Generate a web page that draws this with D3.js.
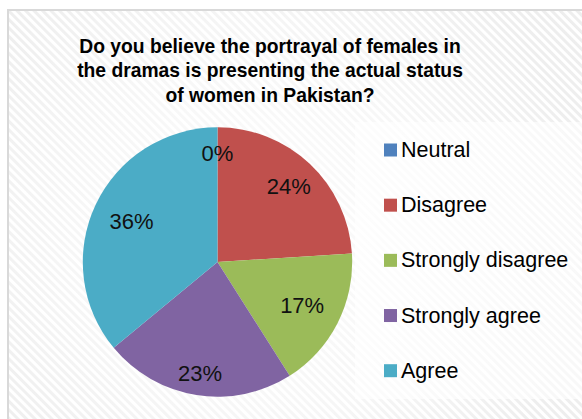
<!DOCTYPE html>
<html>
<head>
<meta charset="utf-8">
<script src="https://cdn.jsdelivr.net/npm/d3@7"></script>
<style>
  html, body { margin: 0; padding: 0; background: #fff; }
  svg { display: block; }
</style>
</head>
<body>
<svg id="chart" width="582" height="419"></svg>
<script>
// Survey responses (percent of respondents)
const categories = ["Neutral", "Disagree", "Strongly disagree", "Strongly agree", "Agree"];
const values = [0, 24, 17, 23, 36];
const colors = ["#4F81BD", "#C0504D", "#9BBB59", "#8064A2", "#4BACC6"];
const titleLines = [
  "Do you believe the portrayal of females in",
  "the dramas is presenting the actual status",
  "of women in Pakistan?"
];

// Layout
const W = 582, H = 419;
const cx = 217.5, cy = 262, R = 134.7;
// radial distance of each percentage label from the pie centre
const labelRadius = [109, 104, 95, 112, 95];

const svg = d3.select("#chart");
const defs = svg.append("defs");

// diagonal striped backdrop
const pat = defs.append("pattern")
  .attr("id", "stripes")
  .attr("patternUnits", "userSpaceOnUse")
  .attr("width", 6).attr("height", 6)
  .attr("patternTransform", "rotate(45)");
pat.append("rect").attr("width", 6).attr("height", 6).attr("fill", "#ffffff");
pat.append("rect").attr("width", 6).attr("height", 3).attr("fill", "#ececec");

const glow = defs.append("radialGradient")
  .attr("id", "glow")
  .attr("gradientUnits", "userSpaceOnUse")
  .attr("cx", 260).attr("cy", 230).attr("r", 330);
glow.append("stop").attr("offset", "0%").attr("stop-color", "#fff").attr("stop-opacity", 0.85);
glow.append("stop").attr("offset", "55%").attr("stop-color", "#fff").attr("stop-opacity", 0.55);
glow.append("stop").attr("offset", "100%").attr("stop-color", "#fff").attr("stop-opacity", 0.1);

svg.append("rect").attr("width", W).attr("height", H).attr("fill", "#fff");
svg.append("rect")
  .attr("x", 8).attr("y", 10).attr("width", W).attr("height", H)
  .attr("fill", "url(#stripes)");
svg.append("rect")
  .attr("x", 8).attr("y", 10).attr("width", W).attr("height", H)
  .attr("fill", "url(#glow)");
svg.append("rect")
  .attr("x", 8).attr("y", 10).attr("width", W + 10).attr("height", H + 10)
  .attr("fill", "none").attr("stroke", "#d9d9d9").attr("stroke-width", 2);

// Title
svg.append("g")
  .selectAll("text")
  .data(titleLines)
  .join("text")
  .attr("x", 270)
  .attr("y", (d, i) => 52.5 + i * 24.6)
  .attr("text-anchor", "middle")
  .attr("font-family", "'Liberation Sans', Arial, sans-serif")
  .attr("font-weight", "bold")
  .attr("font-size", 19.3)
  .attr("fill", "#000")
  .text(d => d);

// Pie
const data = categories.map((c, i) => ({ category: c, value: values[i], color: colors[i], lr: labelRadius[i] }));
const pie = d3.pie().sort(null).value(d => d.value);
const arcs = pie(data);
const arc = d3.arc().innerRadius(0).outerRadius(R);

const g = svg.append("g").attr("transform", `translate(${cx},${cy})`);
g.selectAll("path")
  .data(arcs)
  .join("path")
  .attr("d", arc)
  .attr("fill", d => d.data.color);

g.selectAll("text")
  .data(arcs)
  .join("text")
  .attr("transform", d => {
    const a = (d.startAngle + d.endAngle) / 2;
    return `translate(${Math.sin(a) * d.data.lr},${-Math.cos(a) * d.data.lr})`;
  })
  .attr("text-anchor", "middle")
  .attr("dy", "0.36em")
  .attr("font-family", "'Liberation Sans', Arial, sans-serif")
  .attr("font-size", 22)
  .attr("fill", "#111")
  .text(d => d3.format(".0f")(d.data.value) + "%");

// Legend
svg.append("rect")
  .attr("x", 355).attr("y", 122).attr("width", W - 355).attr("height", 277)
  .attr("fill", "#fff").attr("opacity", 0.6);

const ly = d3.scalePoint().domain(categories).range([150, 370.7]);
const leg = svg.append("g")
  .selectAll("g")
  .data(data)
  .join("g")
  .attr("transform", d => `translate(384,${ly(d.category)})`);
leg.append("rect")
  .attr("x", 0).attr("y", -6.5).attr("width", 13).attr("height", 13)
  .attr("fill", d => d.color);
leg.append("text")
  .attr("x", 17).attr("y", 7)
  .attr("font-family", "'Liberation Sans', Arial, sans-serif")
  .attr("font-size", 21.5)
  .attr("fill", "#000")
  .text(d => d.category);
</script>
</body>
</html>
